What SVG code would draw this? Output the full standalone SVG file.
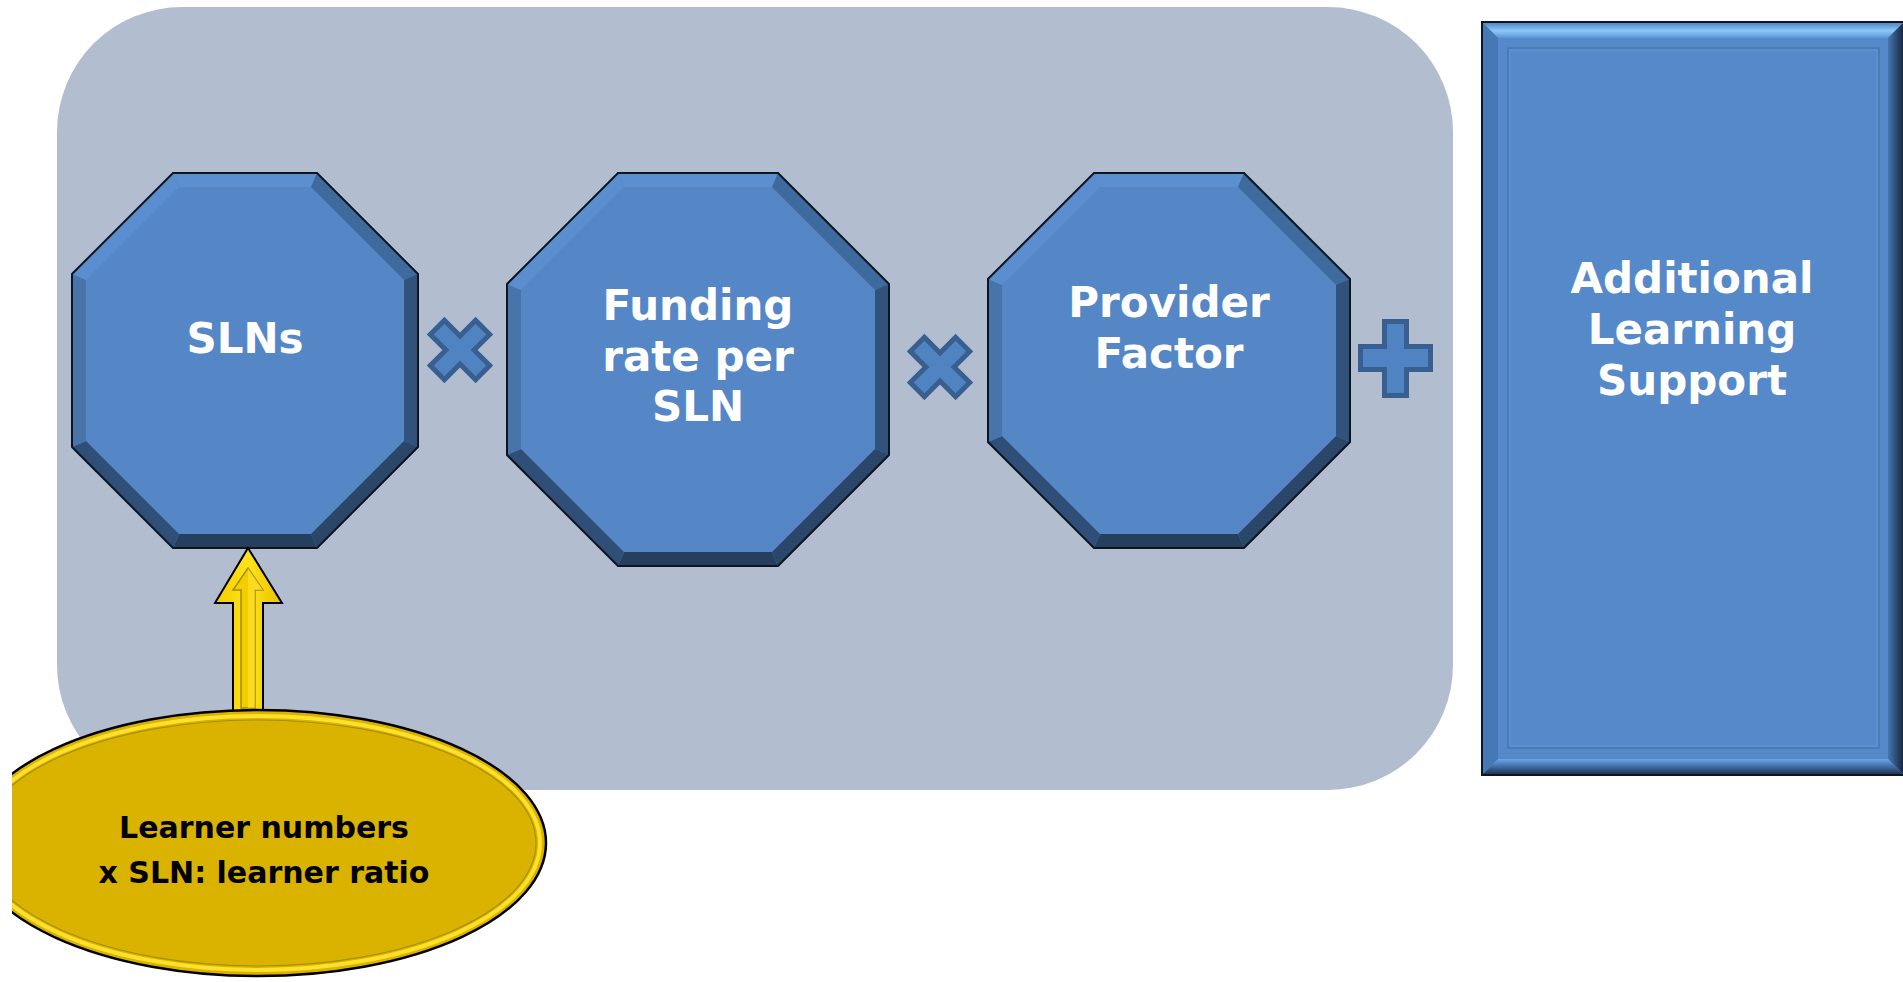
<svg xmlns="http://www.w3.org/2000/svg" width="1903" height="982" viewBox="0 0 1903 982">
<style>
.oct{fill:#5587c7}
.ol{fill:none;stroke:#0d1520;stroke-width:2;stroke-linejoin:miter}
.bt{fill:#5b8fd0}
.btr{fill:#3f6a9d}
.br{fill:#30527b}
.bbr{fill:#2a4669}
.bb{fill:#263f5f}
.bbl{fill:#2f4f78}
.bl{fill:#4874aa}
.btl{fill:#5a8ecf}
.lbl{font-family:"DejaVu Sans",Verdana,sans-serif;font-weight:bold;font-size:42px;fill:#ffffff;text-anchor:middle}
.lbl2{font-family:"DejaVu Sans",Verdana,sans-serif;font-weight:bold;font-size:30px;fill:#000000;text-anchor:middle}
.op{fill:#5083c2;stroke:#385f8f;stroke-width:5;stroke-linejoin:miter}
</style>
<defs>
<polygon id="times" points="0,-14.1 15.6,-29.7 29.7,-15.6 14.1,0 29.7,15.6 15.6,29.7 0,14.1 -15.6,29.7 -29.7,15.6 -14.1,0 -29.7,-15.6 -15.6,-29.7"/>
<linearGradient id="gTop" x1="0" y1="0" x2="0" y2="1">
<stop offset="0" stop-color="#4a7fbf"/><stop offset="0.55" stop-color="#8cc8f8"/><stop offset="1" stop-color="#5d95d5"/>
</linearGradient>
<linearGradient id="gRight" x1="0" y1="0" x2="1" y2="0">
<stop offset="0" stop-color="#4676b0"/><stop offset="1" stop-color="#152338"/>
</linearGradient>
<linearGradient id="gBottom" x1="0" y1="0" x2="0" y2="1">
<stop offset="0" stop-color="#6ea6e6"/><stop offset="0.5" stop-color="#3e6aa3"/><stop offset="1" stop-color="#1c2e48"/>
</linearGradient>
<linearGradient id="gArrow" x1="0" y1="0" x2="1" y2="0">
<stop offset="0" stop-color="#f4cc00"/><stop offset="0.5" stop-color="#ffe31a"/><stop offset="1" stop-color="#e8c000"/>
</linearGradient>
<clipPath id="clipL"><rect x="12" y="0" width="1891" height="982"/></clipPath>
</defs>

<rect width="1903" height="982" fill="#ffffff"/>

<g id="background">
<rect x="57" y="7" width="1396" height="783" rx="125" ry="125" fill="#b3bdd0"/>
</g>

<g id="node-slns">
<polygon class="oct" points="173,173 317,173 418,274 418,447 317,548 173,548 72,447 72,274"/>
<polygon class="bt" points="173,173 317,173 311,187 179,187"/>
<polygon class="btr" points="317,173 418,274 404,280 311,187"/>
<polygon class="br" points="418,274 418,447 404,441 404,280"/>
<polygon class="bbr" points="418,447 317,548 311,534 404,441"/>
<polygon class="bb" points="317,548 173,548 179,534 311,534"/>
<polygon class="bbl" points="173,548 72,447 86,441 179,534"/>
<polygon class="bl" points="72,447 72,274 86,280 86,441"/>
<polygon class="btl" points="72,274 173,173 179,187 86,280"/>
<polygon class="ol" points="173,173 317,173 418,274 418,447 317,548 173,548 72,447 72,274"/>
<text class="lbl" x="245" y="353">SLNs</text>
</g>

<g id="op-times-1">
<use href="#times" class="op" transform="translate(460,350)"/>
</g>

<g id="node-funding">
<polygon class="oct" points="618,173 778,173 889,284 889,455 778,566 618,566 507,455 507,284"/>
<polygon class="bt" points="618,173 778,173 772,187 624,187"/>
<polygon class="btr" points="778,173 889,284 875,290 772,187"/>
<polygon class="br" points="889,284 889,455 875,449 875,290"/>
<polygon class="bbr" points="889,455 778,566 772,552 875,449"/>
<polygon class="bb" points="778,566 618,566 624,552 772,552"/>
<polygon class="bbl" points="618,566 507,455 521,449 624,552"/>
<polygon class="bl" points="507,455 507,284 521,290 521,449"/>
<polygon class="btl" points="507,284 618,173 624,187 521,290"/>
<polygon class="ol" points="618,173 778,173 889,284 889,455 778,566 618,566 507,455 507,284"/>
<text class="lbl" x="698" y="320">Funding</text>
<text class="lbl" x="698" y="371">rate per</text>
<text class="lbl" x="698" y="421">SLN</text>
</g>

<g id="op-times-2">
<use href="#times" class="op" transform="translate(940,367)"/>
</g>

<g id="node-provider">
<polygon class="oct" points="1094,173 1244,173 1350,279 1350,442 1244,548 1094,548 988,442 988,279"/>
<polygon class="bt" points="1094,173 1244,173 1238,187 1100,187"/>
<polygon class="btr" points="1244,173 1350,279 1336,285 1238,187"/>
<polygon class="br" points="1350,279 1350,442 1336,436 1336,285"/>
<polygon class="bbr" points="1350,442 1244,548 1238,534 1336,436"/>
<polygon class="bb" points="1244,548 1094,548 1100,534 1238,534"/>
<polygon class="bbl" points="1094,548 988,442 1002,436 1100,534"/>
<polygon class="bl" points="988,442 988,279 1002,285 1002,436"/>
<polygon class="btl" points="988,279 1094,173 1100,187 1002,285"/>
<polygon class="ol" points="1094,173 1244,173 1350,279 1350,442 1244,548 1094,548 988,442 988,279"/>
<text class="lbl" x="1169" y="317">Provider</text>
<text class="lbl" x="1169" y="368">Factor</text>
</g>

<g id="op-plus">
<polygon class="op" points="1384.5,321.5 1406.5,321.5 1406.5,346.5 1430.5,346.5 1430.5,369.5 1406.5,369.5 1406.5,395.5 1384.5,395.5 1384.5,369.5 1360.5,369.5 1360.5,346.5 1384.5,346.5"/>
</g>

<g id="node-als">
<rect x="1482" y="22" width="422" height="753" fill="#5689c9"/>
<polygon fill="url(#gTop)" points="1482,22 1904,22 1888,38 1498,38"/>
<polygon fill="#4678b5" points="1482,22 1498,38 1498,759 1482,775"/>
<polygon fill="url(#gRight)" points="1904,22 1904,775 1888,759 1888,38"/>
<polygon fill="url(#gBottom)" points="1482,775 1904,775 1888,759 1498,759"/>
<rect x="1508" y="48" width="371" height="700" fill="none" stroke="#4b7bb6" stroke-width="2"/>
<rect x="1510" y="50" width="367" height="696" fill="none" stroke="#6096d4" stroke-width="1"/>
<path d="M1904,22 H1482 V775 H1904" fill="none" stroke="#0d1520" stroke-width="2"/>
<text class="lbl" x="1692" y="293">Additional</text>
<text class="lbl" x="1692" y="344">Learning</text>
<text class="lbl" x="1692" y="395">Support</text>
</g>

<g id="connectors">
<polygon points="248,548 282,603 263,603 263,716 233,716 233,603 215,603" fill="url(#gArrow)" stroke="#000000" stroke-width="2" stroke-linejoin="miter"/>
<polygon points="248,568 263,590 255,590 255,708 241,708 241,590 233,590" fill="#f2cd00" stroke="#a38c00" stroke-width="1.5"/>
<polygon points="248,568 263,590 255,590 255,708 248,708" fill="#ffe433" opacity="0.6"/>
</g>

<g id="node-learner" clip-path="url(#clipL)">
<ellipse cx="258" cy="843" rx="288" ry="133" fill="#dab300" stroke="#000000" stroke-width="2.5"/>
<ellipse cx="258" cy="843" rx="282" ry="127" fill="none" stroke="#ffe02a" stroke-width="4"/>
<ellipse cx="258" cy="843" rx="278" ry="123" fill="none" stroke="#a88e00" stroke-width="1.2"/>
<text class="lbl2" x="264" y="838">Learner numbers</text>
<text class="lbl2" x="264" y="883">x SLN: learner ratio</text>
</g>
</svg>
